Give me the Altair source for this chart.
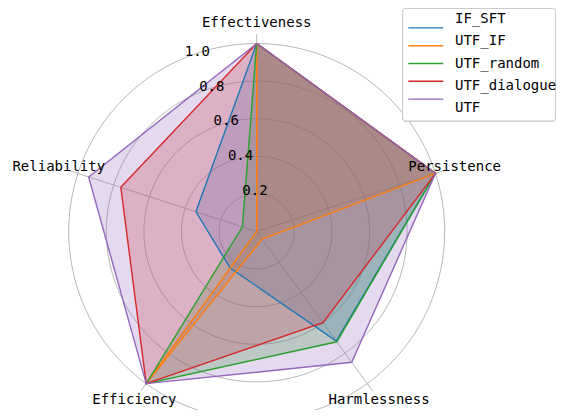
import altair as alt
import pandas as pd

# ---- data ----
axes_names = ["Effectiveness", "Persistence", "Harmlessness", "Efficiency", "Reliability"]
series_names = ["IF_SFT", "UTF_IF", "UTF_random", "UTF_dialogue", "UTF"]
IF_SFT = [1.0, 1.0, 0.72, 0.24, 0.34]
UTF_IF = [1.0, 1.0, 0.05, 1.0, 0.0]
UTF_random = [1.0, 1.0, 0.725, 1.0, 0.08]
UTF_dialogue = [1.0, 1.0, 0.60, 1.0, 0.76]
UTF = [1.0, 1.0, 0.86, 1.0, 0.94]
tick_values = [0.2, 0.4, 0.6, 0.8, 1.0]
tick_labels = ["0.2", "0.4", "0.6", "0.8", "1.0"]
colors = ["#1f77b4", "#ff7f0e", "#2ca02c", "#d62728", "#9467bd"]

series_values = [IF_SFT, UTF_IF, UTF_random, UTF_dialogue, UTF]

# ---- layout (styles / sizes) ----
W, H = 548, 402
CX, CY = 248.7, 223.5
PX = 188.0
FONT = "DejaVu Sans Mono"
xdom = [-CX / PX, (W - CX) / PX]
ydom = [-(H - CY) / PX, CY / PX]
xs = alt.Scale(domain=xdom, nice=False, zero=False)
ys = alt.Scale(domain=ydom, nice=False, zero=False)
N = len(axes_names)

rows = []
for s, vals in zip(series_names, series_values):
    for k in range(N + 1):
        rows.append({"series": s, "axis": axes_names[k % N], "idx": k % N,
                     "ord": k, "value": vals[k % N]})
df = pd.DataFrame(rows)

ang = f"PI/2 - 2*PI*datum.idx/{N}"
color = alt.Color("series:N", scale=alt.Scale(domain=series_names, range=colors), legend=None)

# grid circles
grid = alt.Chart(pd.DataFrame({"r": tick_values})).transform_calculate(
    deg="sequence(0, 363, 3)"
).transform_flatten(["deg"]).transform_calculate(
    gx="datum.r*cos(datum.deg*PI/180)", gy="datum.r*sin(datum.deg*PI/180)"
).mark_line(color="#b8b8b8", strokeWidth=1).encode(
    x=alt.X("gx:Q", scale=xs, axis=None),
    y=alt.Y("gy:Q", scale=ys, axis=None),
    detail="r:N",
    order="deg:Q",
)

# spokes
spokes = alt.Chart(pd.DataFrame({"axis": axes_names, "idx": list(range(N))})).transform_calculate(
    a=ang, x0="0", y0="0",
    x1="1.05*cos(datum.a)", y1="1.05*sin(datum.a)"
).mark_rule(color="#b8b8b8", strokeWidth=1).encode(
    x=alt.X("x0:Q", scale=xs, axis=None), y=alt.Y("y0:Q", scale=ys, axis=None),
    x2="x1:Q", y2="y1:Q",
)

base = alt.Chart(df).transform_calculate(
    a=ang, px="datum.value*cos(datum.a)", py="datum.value*sin(datum.a)"
).encode(
    x=alt.X("px:Q", scale=xs, axis=None),
    y=alt.Y("py:Q", scale=ys, axis=None),
    order="ord:Q",
)
fills = base.mark_line(filled=True, fillOpacity=0.25, strokeOpacity=0).encode(fill=alt.Fill("series:N", scale=alt.Scale(domain=series_names, range=colors), legend=None))
lines = base.mark_line(strokeWidth=1.4).encode(color=color)

# radial tick labels
rlabels = alt.Chart(pd.DataFrame({"r": tick_values, "lab": tick_labels})).transform_calculate(
    tx="datum.r*cos(112.5*PI/180)", ty="datum.r*sin(112.5*PI/180)"
).mark_text(align="left", baseline="bottom", font=FONT, fontSize=14, color="black", dy=1).encode(
    x=alt.X("tx:Q", scale=xs, axis=None), y=alt.Y("ty:Q", scale=ys, axis=None), text="lab:N"
)

# category labels
clabels = alt.Chart(pd.DataFrame({"axis": axes_names, "idx": list(range(N))})).transform_calculate(
    a=ang, lx="1.107*cos(datum.a)", ly="1.107*sin(datum.a)"
).mark_text(align="center", baseline="middle", font=FONT, fontSize=14, color="black").encode(
    x=alt.X("lx:Q", scale=xs, axis=None), y=alt.Y("ly:Q", scale=ys, axis=None), text="axis:N"
)

# legend
leg_df = pd.DataFrame({"series": series_names})
leg_y = alt.Y("series:N", scale=alt.Scale(domain=series_names, range=[11, 100], padding=0), axis=None)
leg_box = alt.Chart(leg_df).mark_rect(
    fill="white", fillOpacity=0.8, stroke="#cccccc", strokeWidth=1, cornerRadius=3
).encode(x=alt.value(394.7), x2=alt.value(547.5), y=alt.value(0.5), y2=alt.value(113))
leg_lines = alt.Chart(leg_df).mark_rule(strokeWidth=1.4).encode(
    x=alt.value(400.3), x2=alt.value(435.3), y=leg_y, color=color
)
leg_text = alt.Chart(leg_df).mark_text(align="left", baseline="middle", font=FONT, fontSize=14, color="black").encode(
    x=alt.value(447), y=leg_y, text="series:N"
)

chart = alt.layer(
    grid, spokes, fills, lines, rlabels, clabels, leg_box, leg_lines, leg_text
).resolve_scale(y="independent").properties(
    width=W, height=H, padding=0,
    autosize=alt.AutoSizeParams(type="none"),
    background="white",
).configure_view(stroke=None)

chart.save("out.html", embed_options={"renderer": "svg", "actions": False})
